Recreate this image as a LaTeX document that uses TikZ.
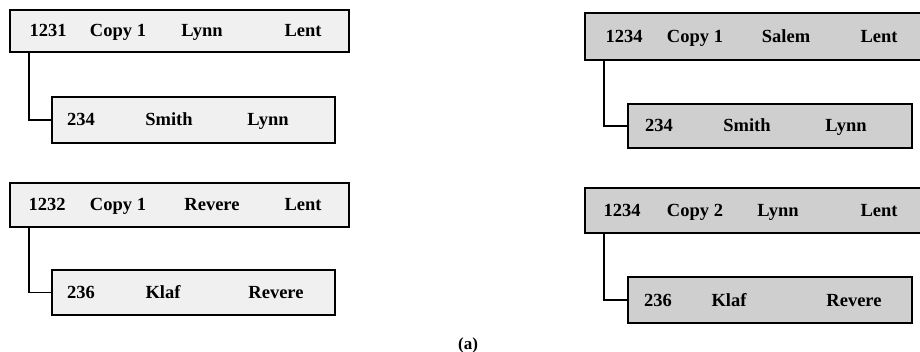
\documentclass[tikz,border=0pt]{standalone}
\usepackage{fontspec}
\setmainfont{Liberation Serif}
\begin{document}
\begin{tikzpicture}[x=1pt,y=-1pt,
  recbox/.style={draw=black, line width=1.8pt, rectangle, inner sep=0pt},
  lightbox/.style={recbox, fill=gray!12},
  darkbox/.style={recbox, fill=gray!38},
  lbl/.style={font=\fontsize{18.5}{20}\selectfont\bfseries, inner sep=0pt, anchor=base},
  link/.style={draw=black, line width=1.4pt}]
\useasboundingbox (0,0) rectangle (920,352);
\clip (0,0) rectangle (920,352);
% left column
\node[lightbox, minimum width=339pt, minimum height=42pt] (b1) at (179.5,31) {};
\node[lightbox, minimum width=283pt, minimum height=46pt] (b2) at (193.5,120) {};
\node[lightbox, minimum width=339pt, minimum height=44pt] (b3) at (179.5,205) {};
\node[lightbox, minimum width=283pt, minimum height=45pt] (b4) at (193.5,292.5) {};
% right column
\node[darkbox, minimum width=340pt, minimum height=47pt] (b5) at (755,36.5) {};
\node[darkbox, minimum width=284pt, minimum height=44pt] (b6) at (770,126) {};
\node[darkbox, minimum width=340pt, minimum height=45pt] (b7) at (755,210.5) {};
\node[darkbox, minimum width=284pt, minimum height=46pt] (b8) at (770,300) {};
% connectors
\draw[link] ([xshift=20pt]b1.south west) |- (b2.west);
\draw[link] ([xshift=20pt]b3.south west) |- (b4.west);
\draw[link] ([xshift=20pt]b5.south west) |- (b6.west);
\draw[link] ([xshift=20pt]b7.south west) |- (b8.west);
% labels box 1 (baseline = centre + 6)
\node[lbl] (t11) at (48,37) {1231};
\node[lbl] (t12) at (118,37) {Copy 1};
\node[lbl] (t13) at (202,37) {Lynn};
\node[lbl] (t14) at (303,37) {Lent};
% box 2
\node[lbl] (t21) at (81,126) {234};
\node[lbl] (t22) at (169,126) {Smith};
\node[lbl] (t23) at (268,126) {Lynn};
% box 3
\node[lbl] (t31) at (47,211) {1232};
\node[lbl] (t32) at (118,211) {Copy 1};
\node[lbl] (t33) at (212,211) {Revere};
\node[lbl] (t34) at (303,211) {Lent};
% box 4
\node[lbl] (t41) at (81,298.5) {236};
\node[lbl] (t42) at (163,298.5) {Klaf};
\node[lbl] (t43) at (276,298.5) {Revere};
% box 5
\node[lbl] (t51) at (624,42.5) {1234};
\node[lbl] (t52) at (695,42.5) {Copy 1};
\node[lbl] (t53) at (786,42.5) {Salem};
\node[lbl] (t54) at (879,42.5) {Lent};
% box 6
\node[lbl] (t61) at (659,132) {234};
\node[lbl] (t62) at (747,132) {Smith};
\node[lbl] (t63) at (846,132) {Lynn};
% box 7
\node[lbl] (t71) at (622,216.5) {1234};
\node[lbl] (t72) at (695,216.5) {Copy 2};
\node[lbl] (t73) at (778,216.5) {Lynn};
\node[lbl] (t74) at (879,216.5) {Lent};
% box 8
\node[lbl] (t81) at (658,306) {236};
\node[lbl] (t82) at (729,306) {Klaf};
\node[lbl] (t83) at (854,306) {Revere};
% caption
\node[lbl, font=\fontsize{17}{19}\selectfont\bfseries] (cap) at (468,349) {(a)};
\end{tikzpicture}
\end{document}
